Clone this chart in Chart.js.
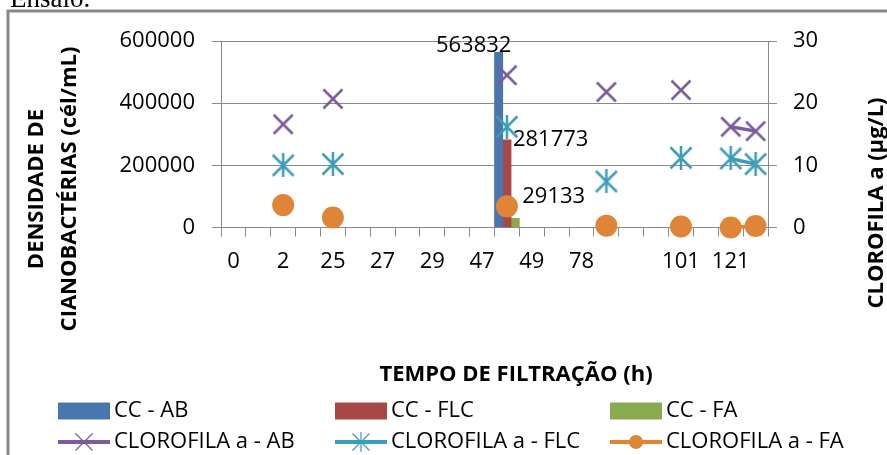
<!DOCTYPE html>
<html>
<head>
<meta charset="utf-8">
<script src="https://cdn.jsdelivr.net/npm/chart.js@4/dist/chart.umd.min.js"></script>
<style>
  html, body { margin: 0; padding: 0; background: #fff; }
  #wrap { width: 887px; height: 455px; position: relative; overflow: hidden; }
</style>
</head>
<body>
<div id="wrap"><canvas id="chart" width="887" height="455"></canvas></div>
<script>
// categories (only every other one gets a label, like the original sheet)
const hours = ['0', '', '2', '', '25', '', '27', '', '29', '', '47', '', '49', '', '78', '', '', '', '101', '', '121', ''];

// cianobactéria density (cél/mL), left axis
const ccAB  = [null, null, null, null, null, null, null, null, null, null, null, 563832, null, null, null, null, null, null, null, null, null, null];
const ccFLC = [null, null, null, null, null, null, null, null, null, null, null, 281773, null, null, null, null, null, null, null, null, null, null];
const ccFA  = [null, null, null, null, null, null, null, null, null, null, null, 29133, null, null, null, null, null, null, null, null, null, null];

// clorofila a (µg/L), right axis
const clAB  = [null, null, 16.6, null, 20.7, null, null, null, null, null, null, 24.5, null, null, null, 21.8, null, null, 22.1, null, 16.2, 15.5];
const clFLC = [null, null, 10.0, null, 10.2, null, null, null, null, null, null, 16.2, null, null, null, 7.4, null, null, 11.2, null, 11.1, 10.2];
const clFA  = [null, null, 3.6, null, 1.6, null, null, null, null, null, null, 3.4, null, null, null, 0.3, null, null, 0.15, null, 0, 0.25];

const seriesNames = ['CC - AB', 'CC - FLC', 'CC - FA', 'CLOROFILA a - AB', 'CLOROFILA a - FLC', 'CLOROFILA a - FA'];

const COLORS = {
    blue: '#4a76b0',
    red: '#a94744',
    green: '#8aab4d',
    purple: '#7a5b9c',
    teal: '#3d9db7',
    orange: '#df8538'
};
const AXIS_GRAY = '#8a8a8a';
const FONT = '"Open Sans", "Noto Sans", sans-serif';

// little canvases for the Excel style markers
function makeMarker(kind, color, size, lw) {
    const c = document.createElement('canvas');
    c.width = size;
    c.height = size;
    const g = c.getContext('2d');
    const m = size / 2;
    const d = size / 2 - 1.5;
    g.strokeStyle = color;
    g.lineWidth = lw;
    g.beginPath();
    g.moveTo(m - d, m - d); g.lineTo(m + d, m + d);
    g.moveTo(m + d, m - d); g.lineTo(m - d, m + d);
    if (kind === 'star') {
        g.moveTo(m, m - d * 1.2); g.lineTo(m, m + d * 1.2);
    }
    g.stroke();
    return c;
}

const xMark = makeMarker('x', COLORS.purple, 22, 2.5);
const starMark = makeMarker('star', COLORS.teal, 24, 2.5);
const xMarkSmall = makeMarker('x', COLORS.purple, 20, 1.2);
const starMarkSmall = makeMarker('star', COLORS.teal, 20, 1.2);

const decorPlugin = {
    id: 'decor',
    beforeDraw(chart) {
        const ctx = chart.ctx;
        ctx.save();
        ctx.fillStyle = '#fff';
        ctx.fillRect(0, 0, chart.width, chart.height);
        // frame around the chart object
        ctx.strokeStyle = '#898989';
        ctx.lineWidth = 3;
        ctx.beginPath();
        ctx.moveTo(8, chart.height);
        ctx.lineTo(8, 11);
        ctx.lineTo(chart.width, 11);
        ctx.stroke();
        // caption text of the document, cut at the top
        ctx.fillStyle = '#000';
        ctx.font = '27px "Liberation Serif", serif';
        ctx.textBaseline = 'alphabetic';
        ctx.textAlign = 'left';
        ctx.fillText('Ensaio.', 10, 7);
        ctx.restore();
    }
};

const barLabelPlugin = {
    id: 'barLabels',
    afterDatasetsDraw(chart) {
        const ctx = chart.ctx;
        const spots = [
            { ds: 0, dx: -25, dy: -7, align: 'center' },
            { ds: 1, dx: 6, dy: 0, align: 'left' },
            { ds: 2, dx: 7, dy: -22, align: 'left' }
        ];
        ctx.save();
        ctx.font = '22px ' + FONT;
        ctx.fillStyle = '#000';
        ctx.textBaseline = 'middle';
        spots.forEach(s => {
            const meta = chart.getDatasetMeta(s.ds);
            const vals = chart.data.datasets[s.ds].data;
            meta.data.forEach((bar, i) => {
                if (vals[i] == null) return;
                ctx.textAlign = s.align;
                ctx.fillText(String(vals[i]), bar.x + s.dx, bar.y + s.dy);
            });
        });
        ctx.restore();
    }
};

const titlesPlugin = {
    id: 'titles',
    afterDraw(chart) {
        const ctx = chart.ctx;
        ctx.save();
        ctx.fillStyle = '#000';
        ctx.font = 'bold 22px ' + FONT;
        ctx.textAlign = 'center';
        ctx.textBaseline = 'alphabetic';

        const vertical = (text, x, y) => {
            ctx.save();
            ctx.translate(x, y);
            ctx.rotate(-Math.PI / 2);
            ctx.fillText(text, 0, 0);
            ctx.restore();
        };
        vertical('DENSIDADE DE', 43, 189);
        vertical('CIANOBACTÉRIAS (cél/mL)', 76, 189);
        vertical('CLOROFILA a (µg/L)', 883, 203);
        ctx.fillText('TEMPO DE FILTRAÇÃO (h)', 516, 381);
        ctx.restore();
    }
};

const legendPlugin = {
    id: 'sheetLegend',
    afterDraw(chart) {
        const ctx = chart.ctx;
        const cols = [58, 335, 610];
        const rows = [411, 442];
        const sw = 52;
        ctx.save();
        ctx.font = '22px ' + FONT;
        ctx.textBaseline = 'middle';
        ctx.textAlign = 'left';
        chart.data.datasets.forEach((ds, i) => {
            const x = cols[i % 3];
            const y = rows[Math.floor(i / 3)];
            if (ds.type === 'bar') {
                ctx.fillStyle = ds.backgroundColor;
                ctx.fillRect(x, y - 8.5, sw, 17);
            } else {
                ctx.strokeStyle = ds.borderColor;
                ctx.lineWidth = 4;
                ctx.beginPath();
                ctx.moveTo(x, y);
                ctx.lineTo(x + sw, y);
                ctx.stroke();
                const mk = ds.legendMarker;
                if (mk === 'circle') {
                    ctx.fillStyle = ds.borderColor;
                    ctx.beginPath();
                    ctx.arc(x + sw / 2, y, 7, 0, Math.PI * 2);
                    ctx.fill();
                } else {
                    ctx.drawImage(mk, x + sw / 2 - mk.width / 2, y - mk.height / 2);
                }
            }
            ctx.fillStyle = '#000';
            ctx.fillText(seriesNames[i], x + sw + 4, y);
        });
        ctx.restore();
    }
};

const tickFont = { family: FONT, size: 22 };

new Chart(document.getElementById('chart'), {
    data: {
        labels: hours,
        datasets: [
            { type: 'bar', label: seriesNames[0], data: ccAB, backgroundColor: COLORS.blue, yAxisID: 'y', order: 1 },
            { type: 'bar', label: seriesNames[1], data: ccFLC, backgroundColor: COLORS.red, yAxisID: 'y', order: 1 },
            { type: 'bar', label: seriesNames[2], data: ccFA, backgroundColor: COLORS.green, yAxisID: 'y', order: 1 },
            {
                type: 'line', label: seriesNames[3], data: clAB, yAxisID: 'y1', order: 0,
                borderColor: COLORS.purple, borderWidth: 3.5, pointStyle: xMark, pointRadius: 10,
                legendMarker: xMarkSmall, clip: false
            },
            {
                type: 'line', label: seriesNames[4], data: clFLC, yAxisID: 'y1', order: 0,
                borderColor: COLORS.teal, borderWidth: 3.5, pointStyle: starMark, pointRadius: 10,
                legendMarker: starMarkSmall, clip: false
            },
            {
                type: 'line', label: seriesNames[5], data: clFA, yAxisID: 'y1', order: 0,
                borderColor: COLORS.orange, borderWidth: 3.5, pointStyle: 'circle', pointRadius: 11,
                pointBackgroundColor: COLORS.orange, pointBorderWidth: 0,
                legendMarker: 'circle', clip: false
            }
        ]
    },
    options: {
        responsive: false,
        animation: false,
        events: [],
        layout: { padding: { top: 41, left: 0, right: 0, bottom: 0 } },
        datasets: {
            bar: { categoryPercentage: 1, barPercentage: 1 }
        },
        plugins: {
            legend: { display: false },
            tooltip: { enabled: false }
        },
        scales: {
            x: {
                offset: true,
                grid: { offset: true, drawOnChartArea: false, tickLength: 9, color: AXIS_GRAY },
                border: { display: true, color: AXIS_GRAY },
                ticks: { autoSkip: false, maxRotation: 0, padding: 12, color: '#000', font: tickFont },
                afterFit: s => { s.height = 227.5; }
            },
            y: {
                position: 'left',
                min: 0,
                max: 600000,
                grid: { color: AXIS_GRAY, tickLength: 9 },
                border: { display: true, color: AXIS_GRAY },
                ticks: { stepSize: 200000, padding: 17, color: '#000', font: tickFont, callback: v => String(v) },
                afterFit: s => { s.width = 221; }
            },
            y1: {
                position: 'right',
                min: 0,
                max: 30,
                grid: { drawOnChartArea: false, color: AXIS_GRAY, tickLength: 9 },
                border: { display: true, color: AXIS_GRAY },
                ticks: { stepSize: 10, padding: 16, color: '#000', font: tickFont, callback: v => String(v) },
                afterFit: s => { s.width = 119; }
            }
        }
    },
    plugins: [decorPlugin, barLabelPlugin, titlesPlugin, legendPlugin]
});
</script>
</body>
</html>
